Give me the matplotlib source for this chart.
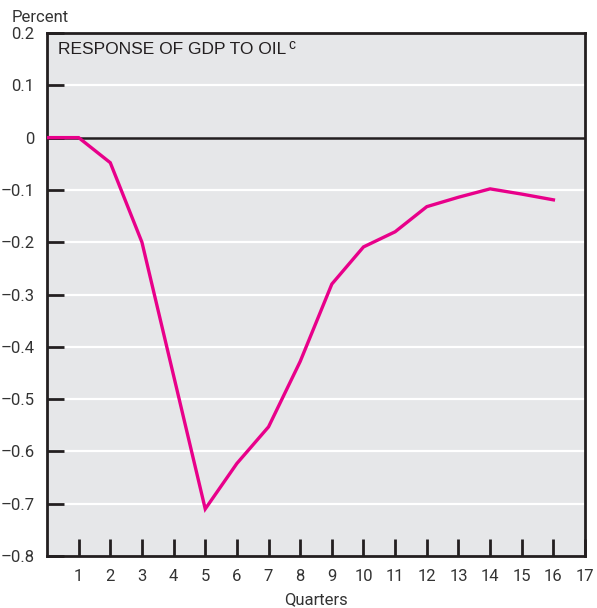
import matplotlib
matplotlib.use('Agg')
import matplotlib.pyplot as plt

# quarters and GDP response (percent)
quarters = [0, 1, 2, 3, 4, 5, 6, 7, 8, 9, 10, 11, 12, 13, 14, 15, 16]
response = [0.0, 0.0, -0.048, -0.20, -0.455, -0.71, -0.623, -0.553, -0.428, -0.28,
            -0.209, -0.18, -0.132, -0.114, -0.098, -0.108, -0.119]
yticks = [0.2, 0.1, 0, -0.1, -0.2, -0.3, -0.4, -0.5, -0.6, -0.7, -0.8]
ylabels = ['0.2', '0.1', '0', '\u20130.1', '\u20130.2', '\u20130.3', '\u20130.4',
           '\u20130.5', '\u20130.6', '\u20130.7', '\u20130.8']
xticks = list(range(1, 18))

font = ['Roboto', 'DejaVu Sans']
txtcol = '#333333'

fig = plt.figure(figsize=(5.97, 6.08), dpi=100)
ax = fig.add_axes([0.0787, 0.0855, 0.9013, 0.8602])
ax.set_facecolor('#e6e7e9')

for y in yticks[1:-1]:
    if y != 0:
        ax.axhline(y, color='white', lw=1.6, zorder=1)
ax.axhline(0, color='#231f20', lw=1.8, zorder=2)

ax.plot(quarters, response, color='#e8008a', lw=2.4, zorder=3, solid_joinstyle='miter')

ax.set_xlim(0, 17)
ax.set_ylim(-0.8, 0.2)
ax.set_xticks(xticks)
ax.set_xticklabels([str(v) for v in xticks], family=font, fontsize=12, color=txtcol)
ax.set_yticks(yticks)
ax.set_yticklabels(ylabels, family=font, fontsize=12, color=txtcol)
ax.tick_params(axis='x', direction='in', length=12, width=2, color='#231f20', pad=9)
ax.tick_params(axis='y', direction='in', length=12, width=2, color='#231f20', pad=9)

for s in ax.spines.values():
    s.set_linewidth(2)
    s.set_color('#231f20')

ax.text(0.02, 0.982, 'RESPONSE OF GDP TO OIL', transform=ax.transAxes,
        ha='left', va='top', family='Liberation Sans', fontsize=12.5, color='#231f20')
ax.text(0.449, 0.99, 'c', transform=ax.transAxes,
        ha='left', va='top', family='Liberation Sans', fontsize=10, color='#231f20')
fig.text(12 / 597, 1 - 17 / 608, 'Percent', family=font, fontsize=12, color=txtcol,
         ha='left', va='center')
fig.text(316 / 597, 1 - 600 / 608, 'Quarters', family=font, fontsize=12, color=txtcol,
         ha='center', va='center')

fig.savefig('out.png', dpi=100)
